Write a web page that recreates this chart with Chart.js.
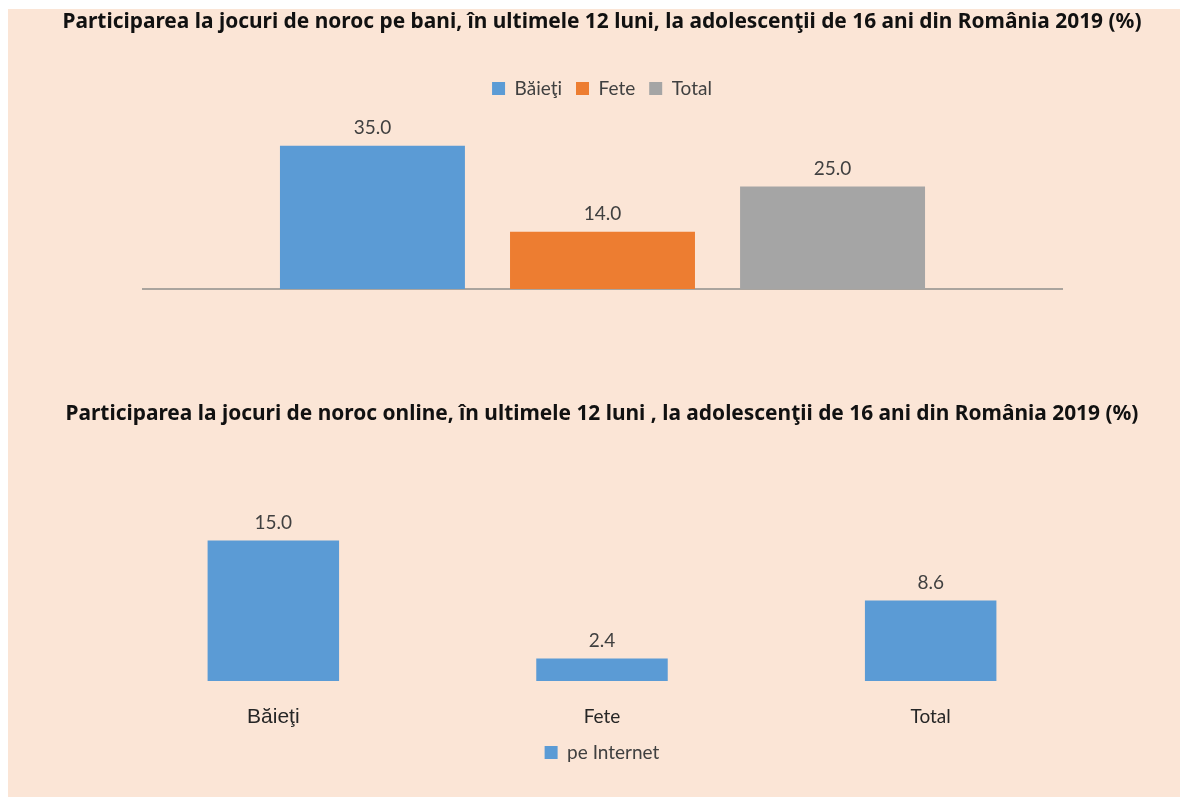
<!DOCTYPE html>
<html>
<head>
<meta charset="utf-8">
<script src="https://cdn.jsdelivr.net/npm/chart.js@4.4.0/dist/chart.umd.min.js"></script>
<style>
  html, body { margin: 0; padding: 0; background: #ffffff; }
  #page { position: absolute; left: 8px; top: 9px; width: 1172px; height: 788px; background: #fbe5d6; }
  .box { position: absolute; left: 0; width: 1180px; }
  #top { top: 0; height: 307px; }
  #bottom { top: 380px; height: 417px; }
</style>
</head>
<body>
<div id="page"></div>
<div class="box" id="top"><canvas id="chartTop"></canvas></div>
<div class="box" id="bottom"><canvas id="chartBottom"></canvas></div>
<script>
// Data
const topTitle = 'Participarea la jocuri de noroc pe bani, în ultimele 12 luni, la adolescenţii de 16 ani din România 2019 (%)';
const topSeries = ['Băieţi', 'Fete', 'Total'];
const topValues = [35.0, 14.0, 25.0];

const bottomTitle = 'Participarea la jocuri de noroc online, în ultimele 12 luni , la adolescenţii de 16 ani din România 2019 (%)';
const bottomCategories = ['Băieţi', 'Fete', 'Total'];
const bottomValues = [15.0, 2.4, 8.6];
const bottomSeries = 'pe Internet';

const barColors = ['#5b9bd5', '#ed7d31', '#a5a5a5'];
const textFont = 'Lato, "Open Sans", sans-serif';
const titleFont = '"Noto Sans", Lato, sans-serif';

// pick a title size so the bold title spans the same width as the original
function fitTitleSize(text, width) {
    const c = document.createElement('canvas').getContext('2d');
    c.font = 'bold 20px ' + titleFont;
    const w = c.measureText(text).width;
    return Math.round(20 * width / w * 10) / 10;
}
const topTitleSize = fitTitleSize(topTitle, 1081);
const bottomTitleSize = fitTitleSize(bottomTitle, 1072);

// empty side axis, only used to reserve room left/right of the plot
function spacer(position, width) {
    return {
        position: position,
        display: true,
        grid: { display: false },
        border: { display: false },
        ticks: { display: false },
        afterFit: (axis) => { axis.width = width; }
    };
}

// Value labels above each bar
const valueLabels = {
    id: 'valueLabels',
    afterDatasetsDraw(chart) {
        const ctx = chart.ctx;
        ctx.save();
        ctx.fillStyle = '#404040';
        ctx.font = '19px ' + textFont;
        ctx.textAlign = 'center';
        ctx.textBaseline = 'middle';
        chart.data.datasets.forEach((ds, i) => {
            chart.getDatasetMeta(i).data.forEach((bar, j) => {
                ctx.fillText(ds.data[j].toFixed(1), bar.x, bar.y - 18);
            });
        });
        ctx.restore();
    }
};

// Top chart: one group, three series
const topCtx = document.getElementById('chartTop').getContext('2d');
window.topChart = new Chart(topCtx, {
    type: 'bar',
    data: {
        labels: [''],
        datasets: topSeries.map((name, i) => ({
            label: name,
            data: [topValues[i]],
            backgroundColor: barColors[i],
            categoryPercentage: 0.751,
            barPercentage: 0.804
        }))
    },
    options: {
        responsive: true,
        maintainAspectRatio: false,
        animation: false,
        layout: { padding: { left: 24, right: 0, top: 0, bottom: 10 } },
        plugins: {
            title: {
                display: true,
                text: topTitle,
                color: '#111111',
                font: { family: titleFont, size: topTitleSize, weight: 'bold', lineHeight: '25px' },
                padding: { top: 10, bottom: 30 }
            },
            legend: {
                position: 'top',
                labels: {
                    color: '#404040',
                    font: { family: textFont, size: 19 },
                    usePointStyle: true,
                    pointStyle: 'rect',
                    boxWidth: 13,
                    boxHeight: 13,
                    padding: 14
                }
            },
            tooltip: { enabled: false }
        },
        scales: {
            x: {
                grid: { display: false },
                border: { display: true, color: '#aaa49e', width: 2 },
                ticks: { display: false }
            },
            y: { ...spacer('left', 119), min: 0, max: 44.2 },
            yRight: spacer('right', 118)
        }
    },
    plugins: [valueLabels]
});

// Bottom chart: three categories, one series
const bottomCtx = document.getElementById('chartBottom').getContext('2d');
window.bottomChart = new Chart(bottomCtx, {
    type: 'bar',
    data: {
        labels: bottomCategories,
        datasets: [{
            label: bottomSeries,
            data: bottomValues,
            backgroundColor: barColors[0],
            categoryPercentage: 0.8,
            barPercentage: 0.5
        }]
    },
    options: {
        responsive: true,
        maintainAspectRatio: false,
        animation: false,
        layout: { padding: { left: 24, right: 0, top: 0, bottom: 25 } },
        plugins: {
            title: {
                display: true,
                text: bottomTitle,
                color: '#111111',
                font: { family: titleFont, size: bottomTitleSize, weight: 'bold', lineHeight: '25px' },
                padding: { top: 22, bottom: 20 }
            },
            legend: {
                position: 'bottom',
                labels: {
                    color: '#404040',
                    font: { family: textFont, size: 19 },
                    usePointStyle: true,
                    pointStyle: 'rect',
                    boxWidth: 13,
                    boxHeight: 13,
                    padding: 10
                }
            },
            tooltip: { enabled: false }
        },
        scales: {
            x: {
                grid: { display: false },
                border: { display: false },
                afterFit: (axis) => { axis.height = 52; },
                ticks: {
                    color: '#262626',
                    padding: 16,
                    font: (c) => c.index === 0
                        ? { family: '"Liberation Sans", Arial, sans-serif', size: 21 }
                        : { family: textFont, size: 19 }
                }
            },
            y: { ...spacer('left', 85), min: 0, max: 25 },
            yRight: spacer('right', 85)
        }
    },
    plugins: [valueLabels]
});
</script>
</body>
</html>
